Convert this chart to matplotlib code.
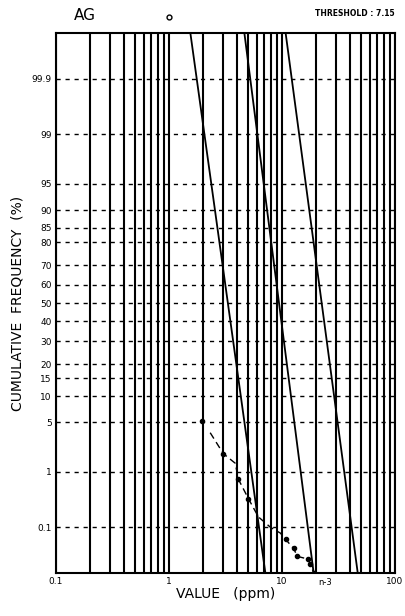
import numpy as np
import matplotlib
matplotlib.use("Agg")
import matplotlib.pyplot as plt
from matplotlib.ticker import LogLocator, FixedLocator, NullFormatter
from statistics import NormalDist

# 累积频率刻度 (%)
pct_ticks = [0.1, 1, 5, 10, 15, 20, 30, 40, 50, 60, 70, 80, 85, 90, 95, 99, 99.9]
pct_labels = ["0.1", "1", "5", "10", "15", "20", "30", "40", "50", "60",
              "70", "80", "85", "90", "95", "99", "99.9"]
x_ticks = [0.1, 1, 10, 100]
x_labels = ["0.1", "1", "10", "100"]

# 三条拟合直线: 0.01% 处与 99.99% 处的取值 (ppm)
fit_low = [7.14, 19.1, 46.9]
fit_high = [1.55, 4.66, 10.8]

# 实测累积曲线
curve_val = [2.32, 3.03, 3.87, 4.12, 5.06, 6.2, 7.92, 9.7, 10.8,
             12.7, 13.7, 16.9, 17.9, 19.1]
curve_pct = [3.7, 1.9, 1.36, 0.76, 0.35, 0.16, 0.10, 0.076, 0.056,
             0.036, 0.024, 0.021, 0.016, 0.0101]
mark_idx = [1, 3, 4, 8, 9, 10, 11, 12, 13]
# 单独的点
point_val = [1.97]
point_pct = [5.2]

nd = NormalDist()
_ppf = np.vectorize(nd.inv_cdf, otypes=[float])
_cdf = np.vectorize(nd.cdf, otypes=[float])


def forward(p):
    p = np.clip(np.asarray(p, dtype=float) / 100.0, 1e-9, 1 - 1e-9)
    return _ppf(p)


def inverse(z):
    return 100.0 * _cdf(np.asarray(z, dtype=float))


fig = plt.figure(figsize=(4.05, 6.16), dpi=100)
ax = fig.add_axes([0.138, 0.070, 0.837, 0.876])
ax.set_xscale("log")
ax.set_yscale("function", functions=(forward, inverse))
ax.set_xlim(0.1, 100)
ax.set_ylim(0.01, 99.99)

# 网格
ax.xaxis.set_major_locator(FixedLocator(x_ticks))
ax.set_xticklabels(x_labels)
ax.xaxis.set_minor_locator(LogLocator(base=10, subs=np.arange(2, 10)))
ax.xaxis.set_minor_formatter(NullFormatter())
ax.yaxis.set_major_locator(FixedLocator(pct_ticks))
ax.set_yticklabels(pct_labels)
ax.yaxis.set_minor_locator(FixedLocator([]))
ax.grid(True, axis="x", which="both", color="black", lw=1.5, ls="-")
ax.grid(True, axis="y", which="major", color="black", lw=1.0, ls=(0, (3, 3.5)))
ax.set_axisbelow(True)
ax.tick_params(which="both", length=0, labelsize=6.5, pad=3)

for spine in ax.spines.values():
    spine.set_linewidth(1.5)

# 拟合直线
for lo, hi in zip(fit_low, fit_high):
    ax.plot([lo, hi], [0.01, 99.99], color="black", lw=1.3)

# 实测曲线
ax.plot(curve_val, curve_pct, color="black", lw=1.0, ls=(0, (5, 3)))
ax.plot([curve_val[i] for i in mark_idx], [curve_pct[i] for i in mark_idx],
        "o", color="black", ms=3)
ax.plot(point_val, point_pct, "o", color="black", ms=3)

# 轴外的点
ax.plot([1.0], [99.996], "o", mfc="white", mec="black", ms=3.5, clip_on=False)

ax.text(21, 0.0075, "n-3", fontsize=6, ha="left", va="top")

ax.set_xlabel("VALUE   (ppm)", fontsize=10, labelpad=1)
ax.set_ylabel("CUMULATIVE  FREQUENCY  (%)", fontsize=10, labelpad=5)

fig.text(0.21, 0.975, "AG", fontsize=11, ha="center", va="center")
fig.text(0.975, 0.978, "THRESHOLD : 7.15", fontsize=5.5, ha="right",
         va="center", fontweight="bold")

plt.savefig("out.png", dpi=100)
